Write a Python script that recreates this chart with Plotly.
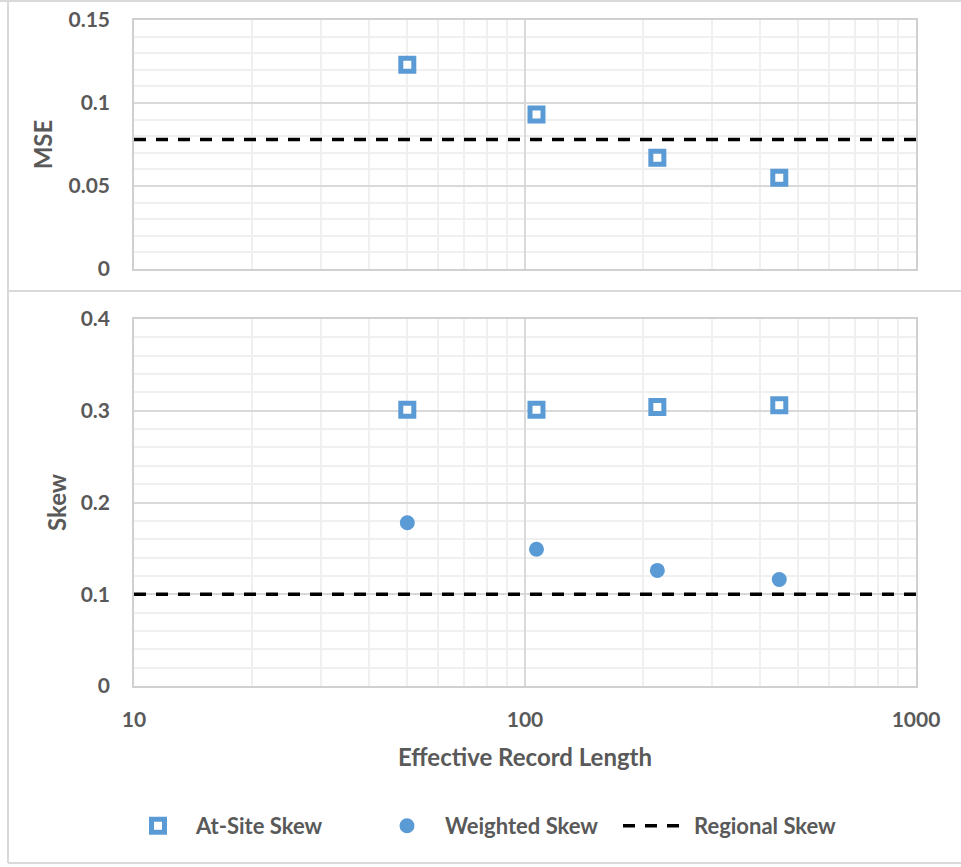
import plotly.graph_objects as go

# ---- data ----
record_length = [50, 107, 218, 447]
mse_at_site = [0.123, 0.093, 0.067, 0.055]
mse_regional = 0.078
skew_at_site = [0.301, 0.301, 0.304, 0.306]
skew_weighted = [0.178, 0.149, 0.126, 0.116]
skew_regional = 0.100
x_range_vals = [10, 1000]

W, H = 961, 867
BLUE = "#5B9BD5"
GRAY_TXT = "#595959"
FONT = "Lato"

def px_x(p):
    return p / W

def px_y(p):
    return 1 - p / H

fig = go.Figure()

sq_marker = dict(symbol="square", size=13, color="white", line=dict(color=BLUE, width=5))
ci_marker = dict(symbol="circle", size=15, color=BLUE, line=dict(width=0))
dash_line = dict(color="black", width=3.5, dash="12px,10px")

# top panel
fig.add_trace(go.Scatter(x=x_range_vals, y=[mse_regional, mse_regional], mode="lines",
                         line=dash_line, xaxis="x", yaxis="y", showlegend=False, hoverinfo="skip"))
fig.add_trace(go.Scatter(x=record_length, y=mse_at_site, mode="markers", marker=sq_marker,
                         xaxis="x", yaxis="y", showlegend=False))
# bottom panel
fig.add_trace(go.Scatter(x=record_length, y=skew_at_site, mode="markers", marker=sq_marker,
                         xaxis="x2", yaxis="y2", name="At-Site Skew"))
fig.add_trace(go.Scatter(x=record_length, y=skew_weighted, mode="markers", marker=ci_marker,
                         xaxis="x2", yaxis="y2", name="Weighted Skew"))
fig.add_trace(go.Scatter(x=x_range_vals, y=[skew_regional, skew_regional], mode="lines",
                         line=dash_line, xaxis="x2", yaxis="y2", name="Regional Skew"))

tickfont = dict(family=FONT, size=21, color=GRAY_TXT, weight="bold")
titlefont = dict(family=FONT, size=24, color=GRAY_TXT, weight="bold")

xcommon = dict(type="log", range=[1, 3], dtick=1, domain=[px_x(134), px_x(916)],
               showgrid=True, gridcolor="#D9D9D9", gridwidth=1.5,
               minor=dict(dtick="D1", showgrid=True, gridcolor="#F0F0F0", gridwidth=1.5),
               showline=True, mirror=True, linecolor="#D0D0D0", linewidth=1.5,
               zeroline=False, ticks="", automargin=False, fixedrange=True,
               ticklabeloverflow="allow")

ycommon = dict(showgrid=True, gridcolor="#D9D9D9", gridwidth=1.5,
               showline=True, mirror=True, linecolor="#D0D0D0", linewidth=1.5,
               zeroline=False, ticks="", automargin=False, tickfont=tickfont,
               ticklabelstandoff=18, fixedrange=True, ticklabeloverflow="allow")

fig.update_layout(
    width=W, height=H,
    margin=dict(l=0, r=0, t=0, b=0),
    paper_bgcolor="white", plot_bgcolor="white",
    template="none",
    xaxis=dict(**xcommon, anchor="y", showticklabels=False),
    xaxis2=dict(**xcommon, anchor="y2", showticklabels=True, tickfont=tickfont,
                ticklabelstandoff=14,
                title=dict(text="Effective Record Length", font=titlefont, standoff=19)),
    yaxis=dict(**ycommon, range=[0, 0.150001], dtick=0.05, domain=[px_y(269), px_y(20)], anchor="x",
               minor=dict(dtick=0.01, showgrid=True, gridcolor="#F0F0F0", gridwidth=1.5),
               title=dict(text="MSE", font=titlefont, standoff=9)),
    yaxis2=dict(**ycommon, range=[0, 0.4], dtick=0.1, domain=[px_y(686), px_y(319)], anchor="x2",
                minor=dict(dtick=0.02, showgrid=True, gridcolor="#F0F0F0", gridwidth=1.5),
                title=dict(text="Skew", font=titlefont, standoff=7)),
    legend=dict(orientation="h", x=px_x(120), y=px_y(826), yanchor="middle", xanchor="left",
                font=dict(family=FONT, size=22, color=GRAY_TXT, weight="bold"),
                itemwidth=66, traceorder="normal", entrywidth=168,
                bgcolor="rgba(0,0,0,0)"),
    showlegend=True,
)

# figure frame and panel separator
frame_col = "#D9D9D9"
shapes = [
    dict(type="line", xref="paper", yref="paper", x0=px_x(8), x1=px_x(8), y0=px_y(1), y1=px_y(863)),
    dict(type="line", xref="paper", yref="paper", x0=px_x(8), x1=1, y0=px_y(863), y1=px_y(863)),
    dict(type="line", xref="paper", yref="paper", x0=px_x(8), x1=1, y0=px_y(291), y1=px_y(291)),
    dict(type="line", xref="paper", yref="paper", x0=0, x1=1, y0=px_y(1), y1=px_y(1)),
]
for s in shapes:
    s["line"] = dict(color=frame_col, width=2)
    s["layer"] = "below"
fig.update_layout(shapes=shapes)

fig.write_html("out.html",
               config={"displayModeBar": False},
               post_script="document.body.style.margin='0';document.body.style.overflow='hidden';")
